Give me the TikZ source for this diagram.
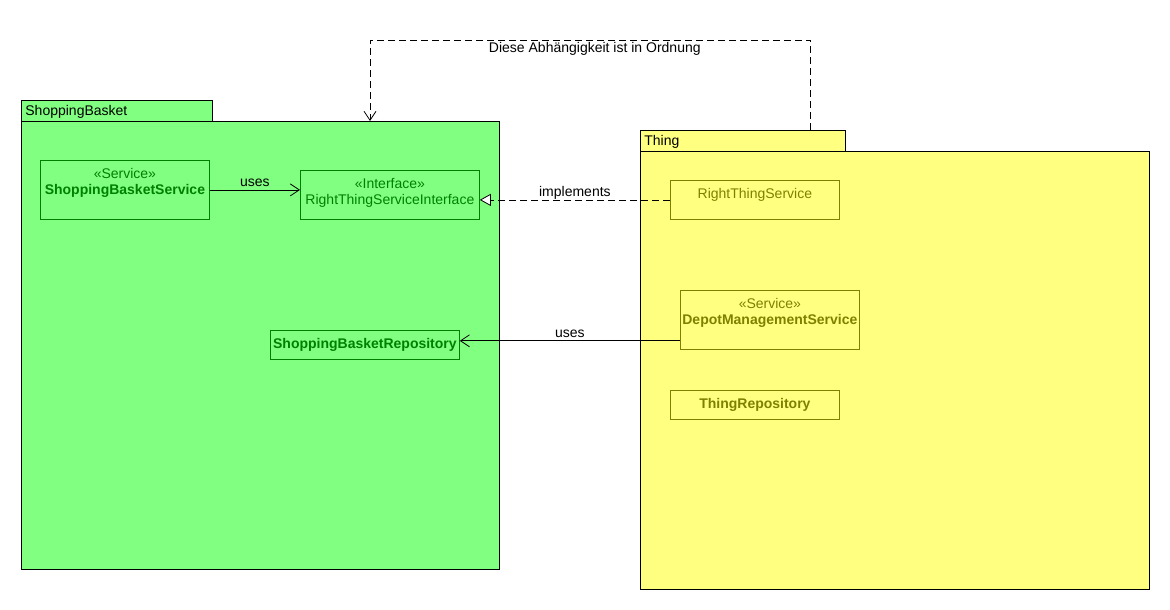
\documentclass[tikz,border=0pt]{standalone}
\usepackage{fontspec}
\setmainfont{Liberation Sans}
\usetikzlibrary{arrows.meta}

\def\thinline{0.8pt}
\definecolor{basketfill}{RGB}{128, 255, 128}
\definecolor{thingfill}{RGB}{255, 255, 128}
\definecolor{basketline}{RGB}{0, 128, 0}
\definecolor{thingline}{RGB}{128, 128, 0}

\begin{document}
\begin{tikzpicture}[x=1pt, y=-1pt,
    font=\fontsize{14}{16}\selectfont,
    pkgbody/.style={draw, fill=#1, anchor=north west, inner sep=0pt, line width=\thinline},
    pkgtab/.style={draw, fill=#1, anchor=north west, inner xsep=4pt, inner ysep=0pt, minimum height=21pt, text depth=0pt, align=left, line width=\thinline},
    classbox/.style={draw=#1, text=#1, anchor=north west, inner sep=0pt, line width=\thinline},
    classtext/.style={anchor=north, align=center, inner sep=0pt, yshift=-8pt},
    uses/.style={draw, line width=\thinline, -{Straight Barb[length=9pt, width=12pt, line width=\thinline]}},
    realizes/.style={draw, line width=\thinline, dash pattern=on 7pt off 4pt, -{Triangle[open, fill=white, length=11pt, width=12pt, line width=\thinline]}},
    dependency/.style={draw, line width=\thinline, dash pattern=on 7pt off 4pt, -{Straight Barb[length=9pt, width=12pt, line width=\thinline]}},
    edgelabel/.style={inner xsep=3pt, inner ysep=3pt, text depth=0pt}
    ]

    \useasboundingbox (0,0) rectangle (1170,610);

    % Define packages
    \node[pkgbody=basketfill, minimum width=478pt, minimum height=448pt] (sbbody) at (21,121) {};
    \node[pkgtab=basketfill, text width=183pt] (sbtab) at (21,100) {ShoppingBasket};
    \node[pkgbody=thingfill, minimum width=509pt, minimum height=438pt] (thingbody) at (640,151) {};
    \node[pkgtab=thingfill, text width=197pt] (thingtab) at (640,130) {Thing};

    % Define classes
    \node[classbox=basketline, minimum width=169pt, minimum height=59pt,
        label={[classtext, basketline]north:{«Service»\\\textbf{ShoppingBasketService}}}] (sbservice) at (40,160) {};
    \node[classbox=basketline, minimum width=179pt, minimum height=49pt,
        label={[classtext, basketline]north:{«Interface»\\RightThingServiceInterface}}] (rtsinterface) at (300,170) {};
    \node[classbox=basketline, minimum width=189pt, minimum height=29pt] (sbrepo) at (270,330) {\textbf{ShoppingBasketRepository}};
    \node[classbox=thingline, minimum width=169pt, minimum height=39pt,
        label={[classtext, thingline]north:{RightThingService}}] (rts) at (670,180) {};
    \node[classbox=thingline, minimum width=179pt, minimum height=59pt,
        label={[classtext, thingline]north:{«Service»\\\textbf{DepotManagementService}}}] (depot) at (680,290) {};
    \node[classbox=thingline, minimum width=169pt, minimum height=29pt] (thingrepo) at (670,390) {\textbf{ThingRepository}};

    % Define connectors
    \coordinate (depotout) at ([yshift=9pt]depot.south west);
    \coordinate (depstart) at ([xshift=-35pt]thingtab.north east);
    \coordinate (depend) at (370,121);

    \draw[uses] (sbservice.east) -- (sbservice.east -| rtsinterface.west)
        node[edgelabel, midway, above] {uses};
    \draw[realizes] (rts.west) -- (rts.west -| rtsinterface.east)
        node[edgelabel, midway, above] {implements};
    \draw[uses] (depotout) -- (depotout -| sbrepo.east)
        node[edgelabel, midway, above] {uses};
    \draw[dependency] (depstart) -- ++(0,-90) -| (depend)
        node[inner sep=2pt, pos=0.245, below] {Diese Abhängigkeit ist in Ordnung};
\end{tikzpicture}
\end{document}
